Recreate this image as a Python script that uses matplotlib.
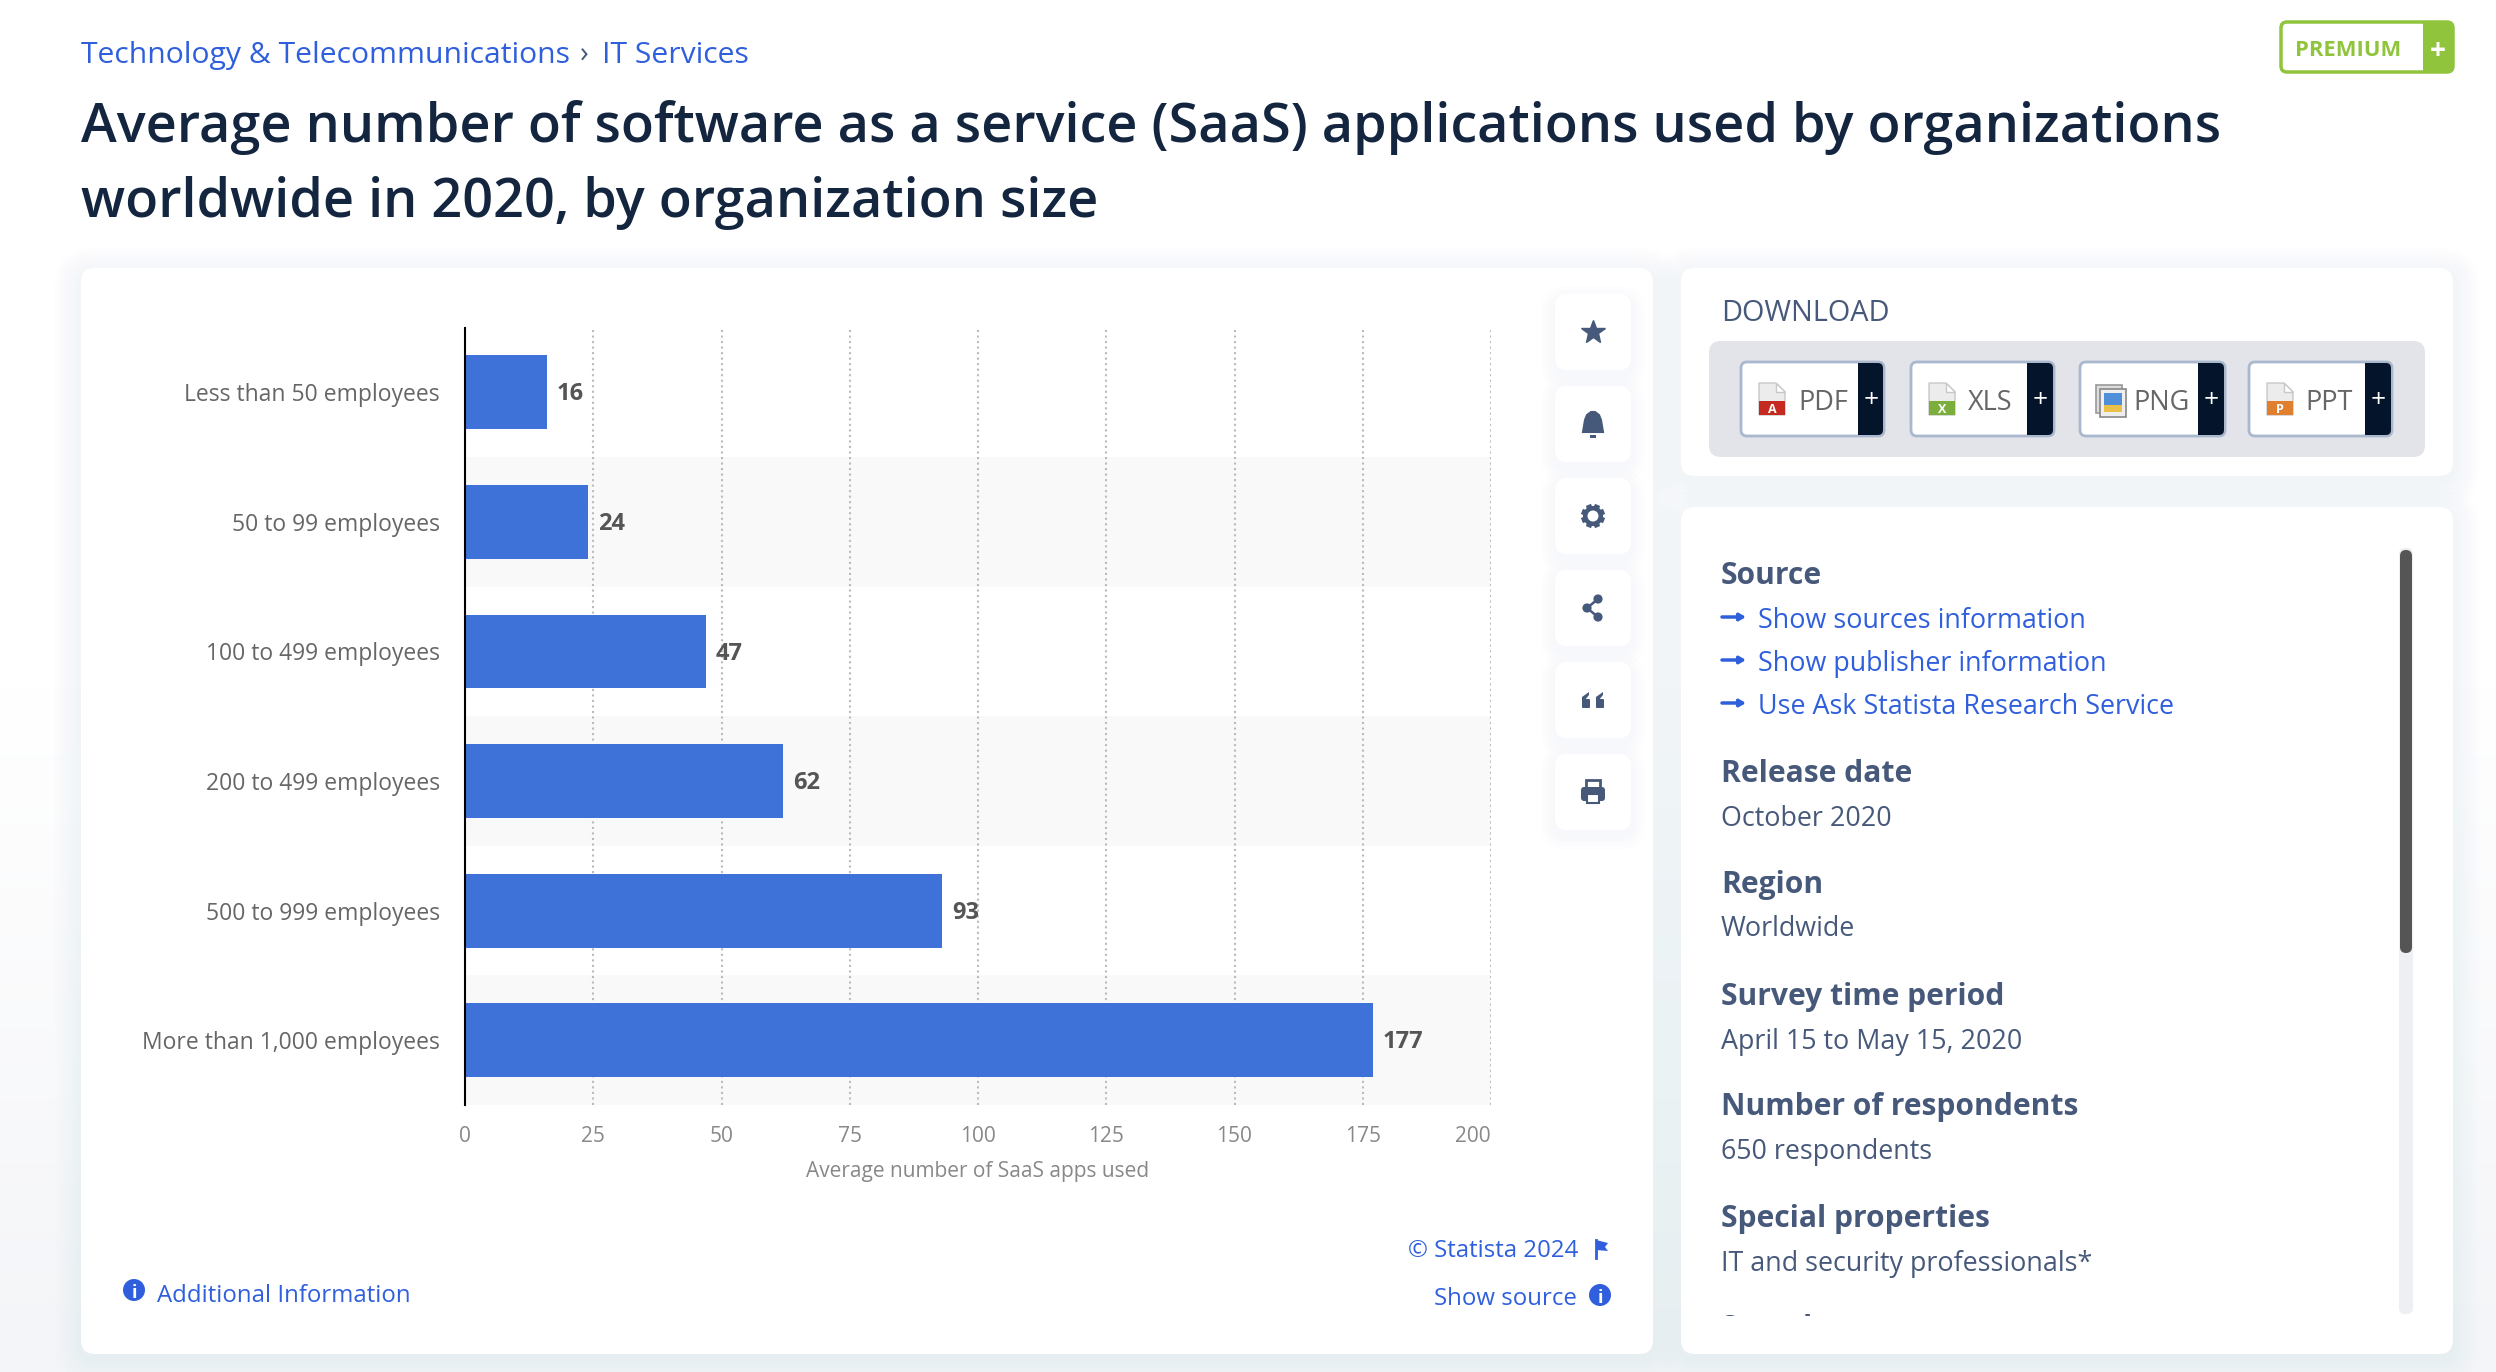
import matplotlib
matplotlib.use('Agg')
import matplotlib.pyplot as plt
import numpy as np
from matplotlib.colors import LinearSegmentedColormap
from matplotlib.patches import Circle, FancyBboxPatch, Polygon, Rectangle

plt.rcParams['font.family'] = ['Open Sans', 'DejaVu Sans']

# Chart data
categories = ['Less than 50 employees', '50 to 99 employees', '100 to 499 employees',
              '200 to 499 employees', '500 to 999 employees', 'More than 1,000 employees']
apps_used = [16, 24, 47, 62, 93, 177]
x_ticks = [0, 25, 50, 75, 100, 125, 150, 175, 200]
x_label = 'Average number of SaaS apps used'

# Page texts
title_lines = ['Average number of software as a service (SaaS) applications used by organizations',
               'worldwide in 2020, by organization size']
source_links = ['Show sources information', 'Show publisher information', 'Use Ask Statista Research Service']
details = [('Release date', 'October 2020'), ('Region', 'Worldwide'),
           ('Survey time period', 'April 15 to May 15, 2020'),
           ('Number of respondents', '650 respondents'),
           ('Special properties', 'IT and security professionals*')]
downloads = ['PDF', 'XLS', 'PNG', 'PPT']

W, H = 2496, 1372
BLUE = '#2f5fdc'
NAVY = '#14263f'
SLATE = '#47597a'
BAR = '#3f72d8'
GREEN = '#8fc43c'
DARK = '#04142a'

fig = plt.figure(figsize=(W / 100, H / 100), dpi=100)

# Page layer in pixel coordinates
ui = fig.add_axes([0, 0, 1, 1])
ui.axis('off')

cmap = LinearSegmentedColormap.from_list('page', ['#ffffff', '#ffffff', '#f4f5f8'])
ui.imshow(np.linspace(0, 1, 256).reshape(-1, 1), cmap=cmap, extent=(0, W, H, 0), aspect='auto', zorder=0)
ui.set_xlim(0, W)
ui.set_ylim(H, 0)


def box(x0, y0, x1, y1, color='white', r=10, z=2, ec='none', lw=0):
    p = FancyBboxPatch((x0 + r, y0 + r), x1 - x0 - 2 * r, y1 - y0 - 2 * r,
                       boxstyle=f'round,pad={r},rounding_size={r}',
                       fc=color, ec=ec, lw=lw, zorder=z)
    ui.add_patch(p)
    return p


def card(x0, y0, x1, y1, r=14, z=2, spread=26):
    # soft shadow built from stacked translucent boxes
    for s in range(spread, 0, -4):
        p = box(x0 - s, y0 - s + 6, x1 + s, y1 + s + 6, color='#6a7a96', r=r + s, z=z)
        p.set_alpha(0.007)
    box(x0, y0, x1, y1, r=r, z=z + 0.1)


def label(x, y, s, size, color=SLATE, weight='normal', ha='left', z=5, **kw):
    return ui.text(x, y, s, fontsize=size, color=color, fontweight=weight, ha=ha,
                   va='center_baseline', zorder=z, **kw)


# Header
label(81, 52, 'Technology & Telecommunications', 21.7, BLUE)
label(580, 52, '›', 21, SLATE)
label(602, 52, 'IT Services', 21.7, BLUE)
label(81, 121, title_lines[0], 38.9, NAVY, weight=600)
label(81, 196, title_lines[1], 38.9, NAVY, weight=600)

# Premium button
box(2281, 22, 2453, 72, color='white', r=6, z=3, ec=GREEN, lw=2.5)
box(2423, 21, 2453, 73, color=GREEN, r=6, z=3.1)
ui.add_patch(Rectangle((2423, 21), 10, 52, fc=GREEN, ec='none', zorder=3.2))
label(2295, 48, 'PREMIUM', 15.8, GREEN, weight='bold')
label(2438, 48, '+', 20, 'white', weight='bold', ha='center')

# Cards
card(81, 268, 1653, 1354)
card(1681, 268, 2453, 476)
card(1681, 507, 2453, 1354)

# Side action buttons
icon_y = [332, 424, 516, 608, 700, 792]
for y in icon_y:
    card(1555, y - 38, 1631, y + 38, r=12, z=3, spread=14)
ix = 1593
ui.plot(ix, icon_y[0], marker='*', ms=18, color=SLATE, mec=SLATE, zorder=6)
# bell
b = icon_y[1]
ui.add_patch(Polygon([(ix - 10, b + 8), (ix - 8, b - 4), (ix - 6, b - 9), (ix - 2, b - 12), (ix + 2, b - 12),
                      (ix + 6, b - 9), (ix + 8, b - 4), (ix + 10, b + 8)], fc=SLATE, ec=SLATE, lw=1.5, zorder=6))
ui.add_patch(Rectangle((ix - 3, b + 11), 6, 2.5, fc=SLATE, ec='none', zorder=6))
# gear
g = icon_y[2]
for a in np.deg2rad(np.arange(0, 360, 45) + 22.5):
    ui.plot([ix, ix + 12 * np.cos(a)], [g, g + 12 * np.sin(a)], color=SLATE, lw=4, solid_capstyle='butt', zorder=6)
ui.add_patch(Circle((ix, g), 10, fc=SLATE, ec='none', zorder=6.1))
ui.add_patch(Circle((ix, g), 5.5, fc='white', ec='none', zorder=6.2))
# share
s = icon_y[3]
pts = [(ix + 5, s - 9), (ix - 6, s), (ix + 5, s + 9)]
ui.plot([p[0] for p in pts], [p[1] for p in pts], color=SLATE, lw=1.8, zorder=6)
for p in pts:
    ui.add_patch(Circle(p, 4.6, fc=SLATE, ec='none', zorder=6.1))
# quotes
q = icon_y[4]
for dx in (-10, 4):
    box(ix + dx - 1, q - 1, ix + dx + 7, q + 8, color=SLATE, r=1, z=6)
    ui.add_patch(Polygon([(ix + dx - 1, q + 1), (ix + dx - 1, q - 3), (ix + dx + 6, q - 8), (ix + dx + 6, q - 5),
                          (ix + dx + 2, q)], fc=SLATE, ec='none', zorder=6))
# printer
pr = icon_y[5]
box(ix - 12, pr - 5, ix + 12, pr + 9, color=SLATE, r=3, z=6)
ui.add_patch(Rectangle((ix - 7, pr - 12), 14, 8, fc='white', ec=SLATE, lw=2, zorder=5.9))
ui.add_patch(Rectangle((ix - 6, pr + 2), 12, 9, fc='white', ec=SLATE, lw=1.5, zorder=6.1))

# Download panel
label(1721, 310, 'DOWNLOAD', 20.8, SLATE, weight=500)
box(1709, 341, 2425, 457, color='#e2e4e9', r=12, z=3)
btn_x0 = [1741, 1911, 2080, 2249]
btn_x1 = [1884, 2054, 2225, 2392]
btn_plus = [1858, 2027, 2198, 2365]
btn_text = [1798, 1968, 2133, 2305]
file_col = ['#c42a1f', '#7cae3c', '#4f8ed8', '#e07f2e']
for i, name in enumerate(downloads):
    x0, x1, xp = btn_x0[i], btn_x1[i], btn_plus[i]
    box(x0, 362, x1, 436, color='white', r=6, z=3.2, ec='#a9b8cc', lw=2)
    box(xp, 363, x1 - 1, 435, color=DARK, r=5, z=3.3)
    ui.add_patch(Rectangle((xp, 363), 8, 72, fc=DARK, ec='none', zorder=3.4))
    label((xp + x1) / 2, 398, '+', 19, 'white', ha='center')
    label(btn_text[i], 400, name, 19.5, '#666666')
    fx = x0 + 18
    if name == 'PNG':
        # stacked picture frames
        ui.add_patch(Rectangle((fx - 2, 385), 26, 28, fc='#dddddd', ec='#999999', lw=1.2, zorder=4))
        ui.add_patch(Rectangle((fx + 2, 389), 26, 28, fc='#eeeeee', ec='#888888', lw=1.2, zorder=4.1))
        ui.add_patch(Rectangle((fx + 6, 393), 18, 12, fc=file_col[i], ec='none', zorder=4.2))
        ui.add_patch(Rectangle((fx + 6, 405), 18, 7, fc='#e8c04a', ec='none', zorder=4.2))
    else:
        ui.add_patch(Polygon([(fx, 383), (fx + 17, 383), (fx + 26, 392), (fx + 26, 415), (fx, 415)],
                             fc='#ececec', ec='#c8c8c8', lw=1, zorder=4))
        ui.add_patch(Polygon([(fx + 17, 383), (fx + 17, 392), (fx + 26, 392)], fc='white', ec='#c8c8c8', lw=1, zorder=4.05))
        ui.add_patch(Rectangle((fx, 401), 26, 14, fc=file_col[i], ec='none', zorder=4.1))
        glyph = {'PDF': 'A', 'XLS': 'X', 'PPT': 'P'}[name]
        label(fx + 13, 408, glyph, 9, 'white', weight='bold', ha='center', z=4.2)

# Source panel
label(1721, 572, 'Source', 21.6, SLATE, weight='bold')
for y, text in zip([618, 661, 704], source_links):
    label(1758, y, text, 19.4, BLUE)
    ui.annotate('', xy=(1746, y - 1), xytext=(1722, y - 1), zorder=5,
                arrowprops=dict(arrowstyle='-|>,head_width=0.2,head_length=0.35', color=BLUE, lw=2.5, shrinkA=0, shrinkB=0))
for (head, value), y in zip(details, [770, 881, 993, 1104, 1215]):
    label(1721, y, head, 21.6, SLATE, weight='bold')
    label(1721, y + 45, value, 19.4, SLATE)

# Next entry is cut off by the scroll area
cut = label(1721, 1325, 'Sample', 21.6, SLATE, weight='bold', clip_on=True)
cut.set_clip_path(Rectangle((1700, 1200), 700, 115.5, transform=ui.transData))

# Scrollbar
box(2399, 548, 2413, 1314, color='#edeff2', r=6, z=3)
box(2400, 550, 2412, 953, color='#555555', r=6, z=3.1)

# Chart footer
ui.add_patch(Circle((134, 1290), 11, fc=BLUE, ec='none', zorder=5))
label(134, 1291, 'i', 13, 'white', weight='bold', ha='center', z=6)
label(157, 1293, 'Additional Information', 17.3, BLUE)
label(1578, 1248, '© Statista 2024', 17.3, BLUE, ha='right')
ui.plot([1596, 1596], [1240, 1258], color=BLUE, lw=2, zorder=5)
ui.add_patch(Polygon([(1596, 1240), (1608, 1243), (1605, 1247), (1608, 1251), (1596, 1250)], fc=BLUE, ec='none', zorder=5))
label(1577, 1296, 'Show source', 17.3, BLUE, ha='right')
ui.add_patch(Circle((1600, 1295), 11, fc=BLUE, ec='none', zorder=5))
label(1600, 1296, 'i', 13, 'white', weight='bold', ha='center', z=6)

# Chart in its own axes, pixel box 465-1491 x 327.5-1105
ax = fig.add_axes([465 / W, 1 - 1105 / H, (1491 - 465) / W, (1105 - 327.5) / H])
ax.patch.set_alpha(0)
y_pos = np.arange(len(categories))
for i in y_pos[1::2]:
    ax.axhspan(i - 0.5, i + 0.5, color='#f9f9f9', lw=0, zorder=0)
ax.barh(y_pos, apps_used, height=0.57, color=BAR, zorder=3)
for y, v in zip(y_pos, apps_used):
    ax.annotate(str(v), xy=(v, y), xytext=(7, -1.5), textcoords='offset points', va='center',
                fontsize=17, fontweight='bold', color='#555555', zorder=4)

ax.set_xlim(0, 200)
ax.set_ylim(5.5, -0.5)
ax.set_yticks(y_pos)
ax.set_yticklabels(categories, fontsize=16.5, color='#666666')
ax.set_xticks(x_ticks)
ax.set_xticklabels([str(t) for t in x_ticks], fontsize=15, color='#888888')
ax.get_xticklabels()[-1].set_ha('right')
ax.tick_params(axis='y', length=0, pad=18)
ax.tick_params(axis='x', length=0, pad=15)
ax.set_xlabel(x_label, fontsize=15, color='#888888', labelpad=10)
ax.grid(axis='x', linestyle=':', color='#bbbbbb', linewidth=1.5, zorder=1)
ax.set_axisbelow(True)
for side in ['top', 'right', 'bottom']:
    ax.spines[side].set_visible(False)
ax.spines['left'].set_color('black')
ax.spines['left'].set_linewidth(1.5)
ax.spines['left'].set_zorder(5)

fig.savefig('out.png', dpi=100)
